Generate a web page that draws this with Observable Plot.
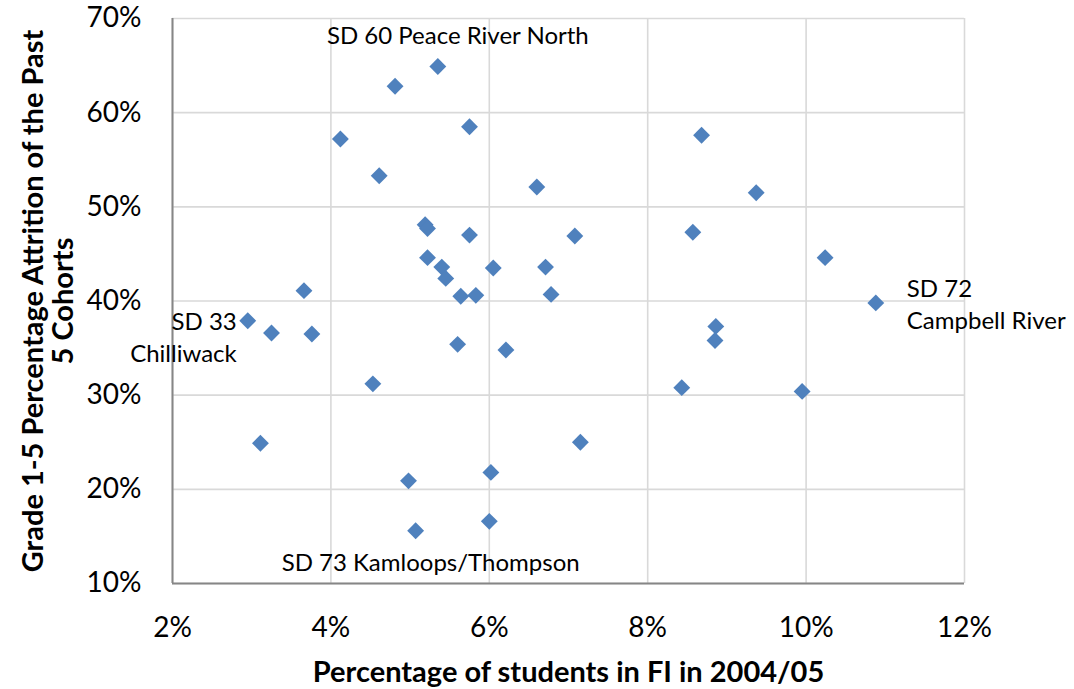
<!DOCTYPE html>
<html>
<head>
<meta charset="utf-8">
<script src="https://cdn.jsdelivr.net/npm/d3@7"></script>
<script src="https://cdn.jsdelivr.net/npm/@observablehq/plot@0.6"></script>
<style>
  html, body { margin: 0; padding: 0; background: #fff; }
  #chart svg { display: block; }
</style>
</head>
<body>
<div id="chart"></div>
<script>
// Percentage of students in FI in 2004/05 (x, %) and Grade 1-5 attrition (y, %)
const fiShare = [
  5.35, 4.81, 5.75, 4.12, 4.61, 6.60, 5.19, 5.22, 5.75, 7.08,
  5.22, 5.40, 6.05, 6.71, 5.45, 3.66, 5.64, 5.83, 6.78, 2.95,
  3.25, 3.76, 5.60, 6.21, 4.53, 3.11, 7.15, 6.02, 4.98, 6.00,
  5.07, 8.68, 9.37, 8.57, 10.24, 10.88, 8.86, 8.85, 8.43, 9.95
];
const attrition = [
  64.9, 62.8, 58.5, 57.2, 53.3, 52.1, 48.1, 47.7, 47.0, 46.9,
  44.6, 43.6, 43.5, 43.6, 42.4, 41.1, 40.5, 40.6, 40.7, 37.9,
  36.6, 36.5, 35.4, 34.8, 31.2, 24.9, 25.0, 21.8, 20.9, 16.6,
  15.6, 57.6, 51.5, 47.3, 44.6, 39.8, 37.3, 35.8, 30.8, 30.4
];
// Labelled districts: index of the point they name
const labelText = ["SD 60 Peace River North", "SD 73 Kamloops/Thompson", "SD 33\nChilliwack", "SD 72\nCampbell River"];
const labelPoint = [0, 30, 19, 35];

const xTicks = [2, 4, 6, 8, 10, 12];
const yTicks = [10, 20, 30, 40, 50, 60, 70];
const xTitle = "Percentage of students in FI in 2004/05";
const yTitle = "Grade 1-5 Percentage Attrition of the Past\n5 Cohorts";

const points = fiShare.map((x, i) => ({x, y: attrition[i]}));
const labels = labelText.map((t, i) => ({text: t, x: fiShare[labelPoint[i]], y: attrition[labelPoint[i]]}));

const FONT = "Lato, 'Open Sans', sans-serif";
const grid = "#d9d9d9";
const axisCol = "#868686";

const chart = Plot.plot({
  width: 1074,
  height: 689,
  marginLeft: 172,
  marginRight: 110,
  marginTop: 18,
  marginBottom: 106,
  style: {fontFamily: FONT, color: "#000", background: "#fff"},
  x: {domain: [2, 12], ticks: xTicks},
  y: {domain: [10, 70], ticks: yTicks},
  marks: [
    Plot.gridX(xTicks, {stroke: grid, strokeOpacity: 1, strokeWidth: 1.6}),
    Plot.gridY(yTicks, {stroke: grid, strokeOpacity: 1, strokeWidth: 1.6}),
    Plot.ruleX([2], {stroke: axisCol, strokeWidth: 2}),
    Plot.ruleY([10], {stroke: axisCol, strokeWidth: 2}),
    Plot.axisX(xTicks, {tickSize: 0, tickPadding: 34, fontSize: 28, tickFormat: d => d + "%", label: null}),
    Plot.axisY(yTicks, {tickSize: 0, tickPadding: 31, fontSize: 28, tickFormat: d => d + "%", label: null}),
    Plot.dot(points, {x: "x", y: "y", symbol: "diamond2", r: 7.6, fill: "#4f81bd", stroke: "none"}),
    Plot.text([labels[0]], {x: "x", y: "y", text: "text", dx: 20, dy: -30, fontSize: 24, textAnchor: "middle", lineAnchor: "middle", fill: "#000"}),
    Plot.text([labels[1]], {x: "x", y: "y", text: "text", dx: 15, dy: 33, fontSize: 24, textAnchor: "middle", lineAnchor: "middle", fill: "#000"}),
    Plot.text([labels[2]], {x: "x", y: "y", text: "text", dx: -11, dy: 15, fontSize: 24, lineHeight: 1.35, textAnchor: "end", lineAnchor: "middle", fill: "#000"}),
    Plot.text([labels[3]], {x: "x", y: "y", text: "text", dx: 31, dy: 0, fontSize: 24, lineHeight: 1.35, textAnchor: "start", lineAnchor: "middle", fill: "#000"}),
    Plot.text([xTitle], {frameAnchor: "bottom", dy: 89, fontSize: 29, fontWeight: "bold", textAnchor: "middle", lineAnchor: "middle", fill: "#000"}),
    Plot.text([yTitle], {frameAnchor: "left", dx: -124, rotate: -90, fontSize: 29, fontWeight: "bold", lineHeight: 1.05, textAnchor: "middle", lineAnchor: "middle", fill: "#000"})
  ]
});
document.getElementById("chart").appendChild(chart);
</script>
</body>
</html>
